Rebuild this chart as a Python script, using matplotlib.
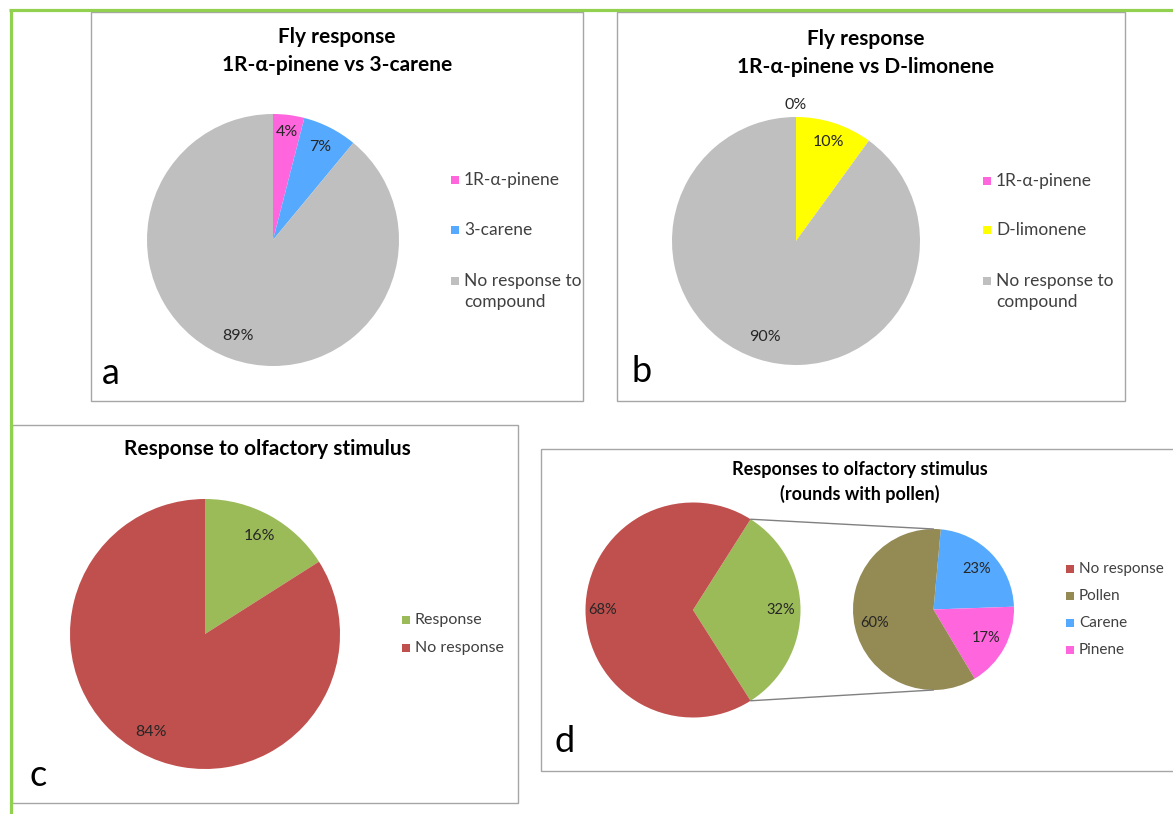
import matplotlib.pyplot as plt
import numpy as np
from matplotlib.patches import Rectangle, ConnectionPatch

plt.rcParams['font.family'] = ['Lato', 'DejaVu Sans']

# panel a
a_labels = ['1R-α-pinene', '3-carene', 'No response to\ncompound']
a_values = [4, 7, 89]
a_colors = ['#FF66DD', '#55AAFF', '#BFBFBF']
# panel b
b_labels = ['1R-α-pinene', 'D-limonene', 'No response to\ncompound']
b_values = [0, 10, 90]
b_colors = ['#FF66DD', '#FFFF00', '#BFBFBF']
# panel c
c_labels = ['Response', 'No response']
c_values = [16, 84]
c_colors = ['#9BBB59', '#C0504D']
# panel d (pie of pie)
d_main_labels = ['Response', 'No response']
d_main_values = [32, 68]
d_main_colors = ['#9BBB59', '#C0504D']
d_sub_labels = ['Carene', 'Pinene', 'Pollen']
d_sub_values = [23, 17, 60]
d_sub_colors = ['#55AAFF', '#FF66DD', '#948A54']
d_leg_labels = ['No response', 'Pollen', 'Carene', 'Pinene']
d_leg_colors = ['#C0504D', '#948A54', '#55AAFF', '#FF66DD']

W, H = 1173, 814
fig = plt.figure(figsize=(W / 100, H / 100), dpi=100)

# background layer in pixel coords (y down)
bg = fig.add_axes([0, 0, 1, 1])
bg.set_xlim(0, W)
bg.set_ylim(H, 0)
bg.axis('off')

bg.plot([9, W], [10, 10], color='#92D050', lw=2.3, solid_capstyle='butt')
bg.plot([10.5, 10.5], [9, H], color='#92D050', lw=2.3, solid_capstyle='butt')

for x0, y0, x1, y1 in [(91, 12, 583, 401), (617, 12, 1125, 401),
                       (12, 425, 518, 803), (541, 449, 1180, 771)]:
    bg.add_patch(Rectangle((x0, y0), x1 - x0, y1 - y0, fill=False,
                           ec='#A6A6A6', lw=1))


def title(x, ys, lines, fs):
    for y, t in zip(ys, lines):
        bg.text(x, y, t, ha='center', va='center', fontsize=fs,
                fontweight='bold', color='black')


def legend(x, ys, labels, colors, fs=11, step=21):
    for y, lab, col in zip(ys, labels, colors):
        bg.add_patch(Rectangle((x, y - 4), 8, 8, color=col, lw=0))
        for i, line in enumerate(lab.split('\n')):
            bg.text(x + 13, y + i * step, line, ha='left', va='center',
                    fontsize=fs, color='#404040')


def draw_pie(cx, cy, r, values, colors, start, dists, fs=11.5):
    ax = fig.add_axes([(cx - r) / W, 1 - (cy + r) / H, 2 * r / W, 2 * r / H])
    ax.pie(values, colors=colors, startangle=start, counterclock=False,
           radius=1, wedgeprops=dict(linewidth=0))
    ax.set_xlim(-1, 1)
    ax.set_ylim(-1, 1)
    ang = start
    for v, d in zip(values, dists):
        span = 360 * v / sum(values)
        mid = np.deg2rad(ang - span / 2)
        ax.text(d * np.cos(mid), d * np.sin(mid), f'{v}%', ha='center',
                va='center', fontsize=fs, color='#262626')
        ang -= span
    return ax


# a
title(337, [37, 65], ['Fly response', '1R-α-pinene vs 3-carene'], 15)
draw_pie(273, 240, 126, a_values, a_colors, 90, [0.86, 0.83, 0.81])
legend(451, [180, 230, 281], a_labels, a_colors, fs=12.5)
bg.text(111, 384, 'a', fontsize=26, ha='center', va='baseline')

# b
title(866, [39, 67], ['Fly response', '1R-α-pinene vs D-limonene'], 15)
draw_pie(796, 241, 124, b_values, b_colors, 90, [1.1, 0.84, 0.81])
legend(983, [181, 230, 281], b_labels, b_colors, fs=12.5)
bg.text(642, 382, 'b', fontsize=26, ha='center', va='baseline')

# c
title(267, [449], ['Response to olfactory stimulus'], 15)
draw_pie(205, 634, 135, c_values, c_colors, 90, [0.83, 0.83])
legend(402, [620, 648], c_labels, c_colors, fs=11.5)
bg.text(38, 786, 'c', fontsize=26, ha='center', va='baseline')

# d
title(860, [470, 494], ['Responses to olfactory stimulus', '(rounds with pollen)'], 13)
half = 180 * d_main_values[0] / sum(d_main_values)
ax1 = draw_pie(693, 610, 107.5, d_main_values, d_main_colors, half,
               [0.82, 0.84], fs=10.5)
ax2 = draw_pie(933.5, 609.5, 80.5, d_sub_values, d_sub_colors, 84.8,
               [0.74, 0.75, 0.75], fs=10.5)
for s in (1, -1):
    th = np.deg2rad(s * half)
    con = ConnectionPatch(xyA=(np.cos(th), np.sin(th)), coordsA=ax1.transData,
                          xyB=(0, s), coordsB=ax2.transData,
                          color='#808080', lw=1)
    fig.add_artist(con)
legend(1066, [569, 596, 623, 650], d_leg_labels, d_leg_colors, fs=11)
bg.text(565, 752, 'd', fontsize=26, ha='center', va='baseline')

fig.savefig('out.png', dpi=100, facecolor='white')
